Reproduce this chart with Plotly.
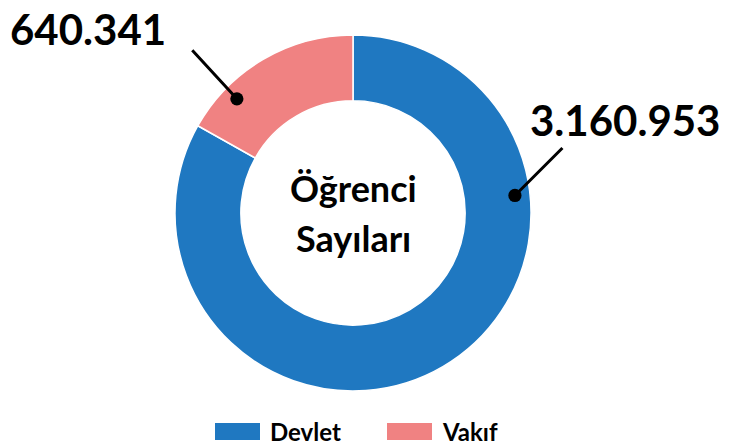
import math

import plotly.graph_objects as go

labels = ["Devlet", "Vakıf"]
values = [3160953, 640341]
value_texts = ["3.160.953", "640.341"]
colors = ["#1f78c1", "#f08282"]
center_lines = ["Öğrenci", "Sayıları"]

FONT = "Lato, 'Open Sans', sans-serif"
OFF = 8  # page body margin
W, H = 729 - OFF, 447 - OFF
M = dict(l=0, r=31, t=27, b=56)
PW, PH = W - M["l"] - M["r"], H - M["t"] - M["b"]
R = min(PW, PH) / 2
# pie centre in screenshot pixels
CX, CY = OFF + M["l"] + PW / 2, OFF + M["t"] + PH / 2


def to_paper(ix, iy):
    # screenshot pixel -> paper coords
    return (ix - OFF - M["l"]) / PW, 1 - (iy - OFF - M["t"]) / PH


fig = go.Figure(
    go.Pie(
        labels=labels,
        values=values,
        hole=0.63,
        sort=False,
        direction="clockwise",
        rotation=0,
        textinfo="none",
        hoverinfo="label+value",
        marker=dict(colors=colors, line=dict(color="white", width=1.5)),
        showlegend=False,
    )
)

# leader lines with dots, positioned along each slice
total = sum(values)
slice_pos = [0.28, 0.25]
tails = [(49, -49), (-46, -50)]
text_centres = [(625, 120), (88, 29)]
start = 0.0
for i, v in enumerate(values):
    frac = v / total
    ang = 2 * math.pi * (start + frac * slice_pos[i])
    start += frac
    ix = CX + 0.915 * R * math.sin(ang)
    iy = CY - 0.915 * R * math.cos(ang)
    x, y = to_paper(ix, iy)
    fig.add_annotation(
        x=x, y=y, xref="paper", yref="paper", text="",
        showarrow=True, arrowhead=6, arrowsize=1.1, arrowwidth=3,
        arrowcolor="black", ax=tails[i][0], ay=tails[i][1],
        standoff=0,
    )
    tx, ty = to_paper(*text_centres[i])
    fig.add_annotation(
        x=tx, y=ty, xref="paper", yref="paper", text=value_texts[i],
        showarrow=False, xanchor="center", yanchor="middle", height=42,
        font=dict(family=FONT, size=42, color="black", weight="bold"),
    )

# centre title
for k, line in enumerate(center_lines):
    x, y = to_paper(CX, CY - 25 + 50 * k)
    fig.add_annotation(
        x=x, y=y, xref="paper", yref="paper", text=line, showarrow=False,
        xanchor="center", yanchor="middle",
        font=dict(family=FONT, size=36, color="black", weight="bold"),
    )

# legend drawn as wide swatches
legend_x = [215, 387]
for i, lab in enumerate(labels):
    x0, y0 = to_paper(legend_x[i], 423)
    x1, y1 = to_paper(legend_x[i] + 45, 440)
    fig.add_shape(
        type="rect", xref="paper", yref="paper", x0=x0, x1=x1, y0=y1, y1=y0,
        fillcolor=colors[i], line=dict(width=0),
    )
    tx, ty = to_paper(legend_x[i] + 53, 432)
    fig.add_annotation(
        x=tx, y=ty, xref="paper", yref="paper", text=lab, showarrow=False,
        xanchor="left", yanchor="middle",
        font=dict(family=FONT, size=24, color="black", weight="bold"),
    )

fig.update_layout(
    width=W,
    height=H,
    margin=M,
    paper_bgcolor="white",
    plot_bgcolor="white",
)
fig.write_html("out.html")
